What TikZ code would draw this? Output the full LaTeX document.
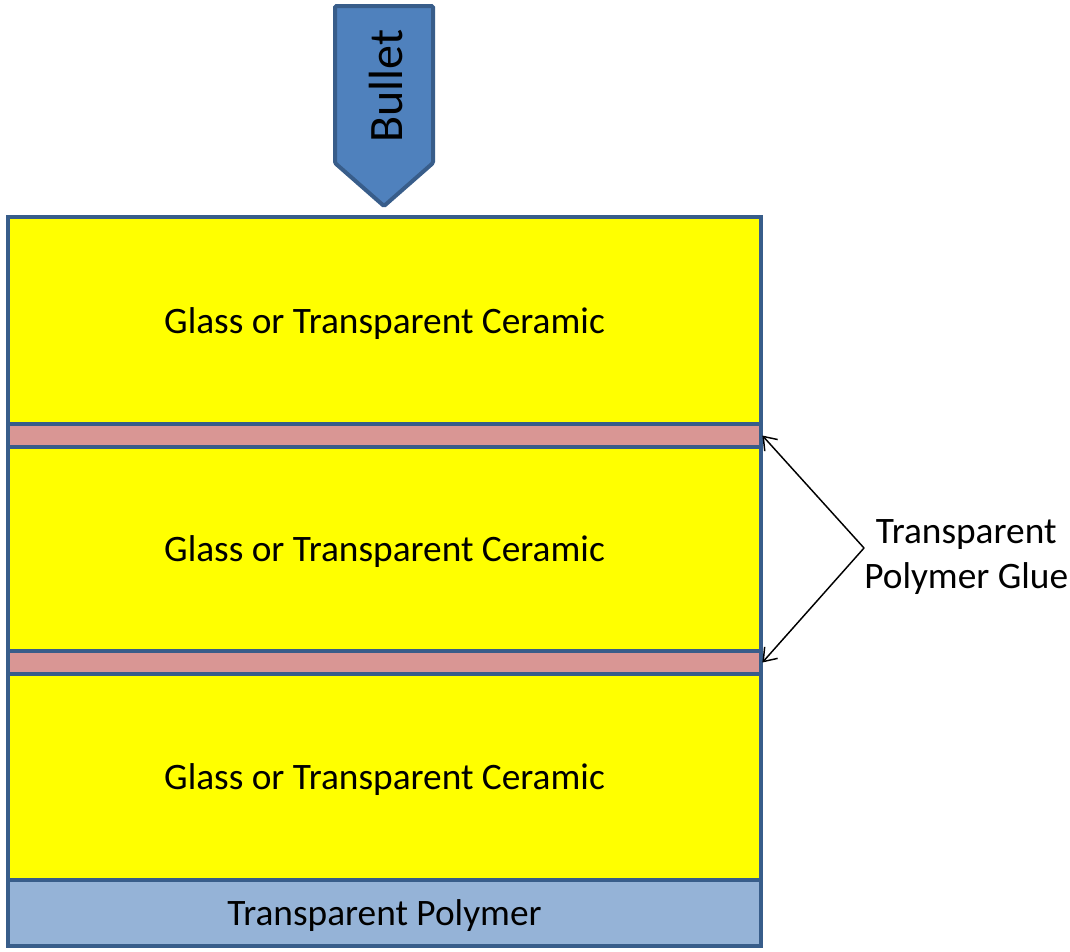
\documentclass[tikz,border=0pt]{standalone}
\usepackage{fontspec}
\setmainfont{Carlito}
\usepackage{tikz}
\usetikzlibrary{positioning,arrows.meta}
\definecolor{edgeblue}{RGB}{56,93,138}
\definecolor{bulletblue}{RGB}{79,129,189}
\definecolor{gluepink}{RGB}{217,150,148}
\definecolor{polyblue}{RGB}{149,179,215}
\definecolor{glassyellow}{RGB}{255,255,0}

\begin{document}
\begin{tikzpicture}[x=0.75pt,y=-0.75pt,
	layer/.style={draw=edgeblue,line width=3pt,rectangle,minimum width=564.75pt,
		inner sep=0pt,outer sep=0pt,text depth=0pt,font=\fontsize{28}{33.6}\selectfont},
	glass/.style={layer,fill=glassyellow,minimum height=154.5pt},
	glue/.style={layer,fill=gluepink,minimum height=17.25pt},
	polymer/.style={layer,fill=polyblue,minimum height=49.5pt},
	pointer/.style={line width=1.1pt,-{Straight Barb[length=9pt,width=13pt]}}]
	
	\useasboundingbox (0,0) rectangle (1070,951);
	
	% bullet
	\draw[draw=edgeblue,fill=bulletblue,line width=3pt,rounded corners=1pt]
		(335,6) -- (433,6) -- (433,163) -- (384,206) -- (335,163) -- cycle;
	\node[rotate=90,font=\fontsize{36}{43}\selectfont] (bullettext) at (386,86) {Bullet};
	
	% layers
	\node[glass,anchor=north,minimum height=155.25pt] (glassA) at (384.5,217) {Glass or Transparent Ceramic};
	\node[glue,below=0pt of glassA] (glueA) {};
	\node[glass,below=0pt of glueA,minimum height=153pt] (glassB) {Glass or Transparent Ceramic};
	\node[glue,below=0pt of glassB] (glueB) {};
	\node[glass,below=0pt of glueB] (glassC) {Glass or Transparent Ceramic};
	\node[polymer,below=0pt of glassC] (poly) {Transparent Polymer};
	
	% label
	\node[align=center,anchor=west,inner sep=0pt,font=\fontsize{28}{33.6}\selectfont]
		(gluelabel) at (864,557) {Transparent\\Polymer Glue};
	\draw[pointer] ([yshift=6.75pt]gluelabel.west) -- ([xshift=1pt]glueA.east);
	\draw[pointer] ([yshift=6.75pt]gluelabel.west) -- ([xshift=1pt]glueB.east);
	
\end{tikzpicture}
\end{document}
